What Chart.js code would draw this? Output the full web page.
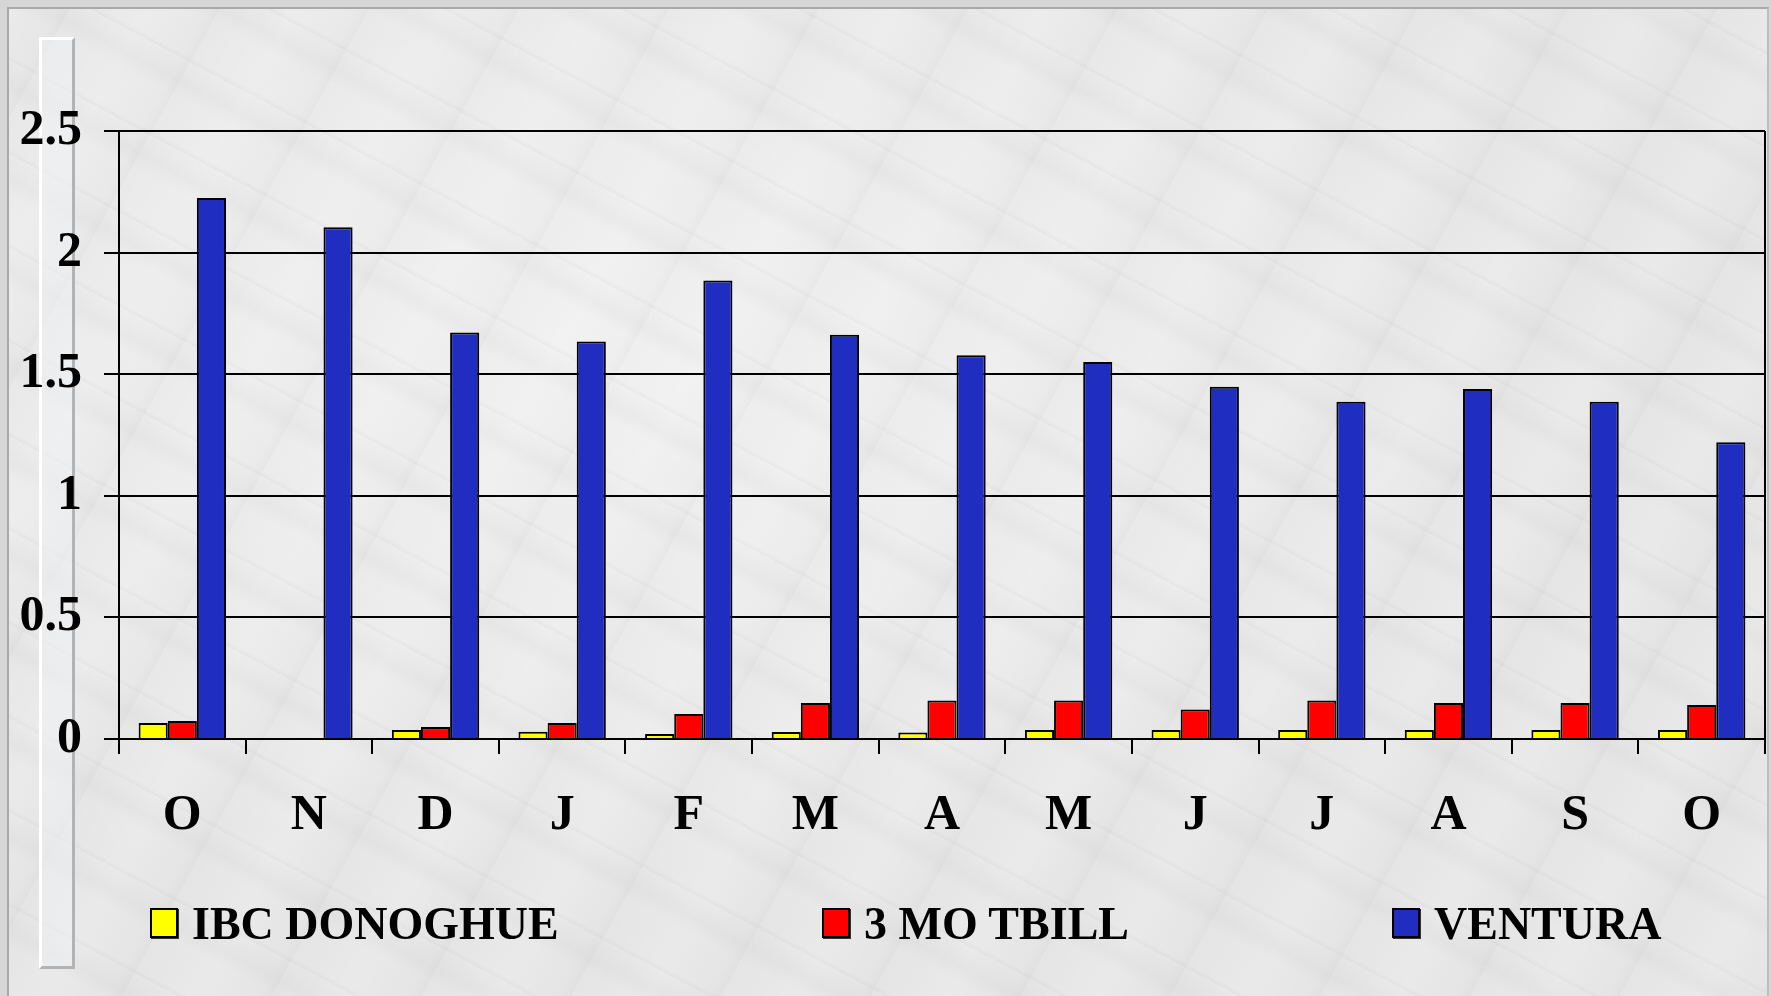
<!DOCTYPE html>
<html>
<head>
<meta charset="utf-8">
<script src="https://cdn.jsdelivr.net/npm/chart.js@4/dist/chart.umd.min.js"></script>
<style>
  html, body { margin: 0; padding: 0; }
  body {
    width: 1771px; height: 996px; position: relative; overflow: hidden;
    background-color: #d6d6d6;
  }
  #marble {
    position: absolute; left: 7px; top: 7px; right: 2px; bottom: -4px;
    border-left: 2px solid #a9a9a9; border-top: 2px solid #a9a9a9; border-right: 2px solid #bdbdbd;
    background-color: #e5e5e5;
    background-image:
      repeating-linear-gradient(28deg, rgba(140,140,140,0.07) 0px, rgba(255,255,255,0) 5px, rgba(255,255,255,0) 47px, rgba(150,150,150,0.06) 61px, rgba(255,255,255,0) 83px),
      repeating-linear-gradient(-61deg, rgba(140,140,140,0.05) 0px, rgba(255,255,255,0) 11px, rgba(255,255,255,0.18) 63px, rgba(255,255,255,0) 131px),
      radial-gradient(ellipse at 35% 35%, rgba(255,255,255,0.4), rgba(255,255,255,0) 65%);
  }
  #strip {
    position: absolute; left: 39px; top: 37px; width: 30px; height: 926px;
    border-left: 3px solid #ffffff; border-top: 3px solid #ffffff;
    border-right: 3px solid #b3b3b3; border-bottom: 3px solid #b3b3b3;
    background: rgba(240,242,245,0.5);
  }
  canvas { position: absolute; left: 0; top: 0; }
  #legend { position: absolute; left: 0; top: 0; width: 1771px; height: 996px; pointer-events: none; }
  .item { position: absolute; top: 906px; height: 34px; display: flex; align-items: center;
    font-family: "Liberation Serif", "Times New Roman", serif; font-weight: bold; font-size: 46px; color: #000; white-space: nowrap; }
  .box { width: 24px; height: 26px; border: 2px solid #000; margin-right: 14px; box-shadow: 1px 1px 0 #333; }
</style>
</head>
<body>
<div id="marble"></div>
<div id="strip"></div>
<canvas id="chart" width="1771" height="996"></canvas>
<div id="legend"></div>
<script>
// months, Oct to Oct
const categories = ['O', 'N', 'D', 'J', 'F', 'M', 'A', 'M', 'J', 'J', 'A', 'S', 'O'];
const ibcDonoghue = [0.066, null, 0.037, 0.030, 0.021, 0.029, 0.027, 0.037, 0.037, 0.037, 0.037, 0.037, 0.037];
const tbill3mo = [0.074, null, 0.049, 0.066, 0.103, 0.148, 0.158, 0.158, 0.121, 0.158, 0.148, 0.148, 0.140];
const ventura = [2.225, 2.104, 1.671, 1.634, 1.885, 1.662, 1.578, 1.550, 1.448, 1.387, 1.439, 1.387, 1.220];
const yTicks = [0, 0.5, 1, 1.5, 2, 2.5];
const seriesNames = ['IBC DONOGHUE', '3 MO TBILL', 'VENTURA'];
const seriesColors = ['#ffff00', '#ff0000', '#1f2ec0'];

const tickFont = { family: "'Liberation Serif', 'Times New Roman', serif", weight: 'bold', size: 50 };

const chart = new Chart(document.getElementById('chart').getContext('2d'), {
    type: 'bar',
    data: {
        labels: categories,
        datasets: [ibcDonoghue, tbill3mo, ventura].map((vals, i) => ({
            label: seriesNames[i],
            data: vals,
            backgroundColor: seriesColors[i],
            borderColor: '#000',
            borderWidth: 2,
            borderSkipped: 'start',
            categoryPercentage: 0.69,
            barPercentage: 1.0
        }))
    },
    options: {
        responsive: false,
        animation: false,
        layout: { padding: { left: 0, right: 6, top: 131, bottom: 118 } },
        plugins: {
            legend: { display: false },
            tooltip: { enabled: false }
        },
        scales: {
            x: {
                grid: {
                    offset: true,
                    color: c => (c.tick ? 'rgba(0,0,0,0)' : '#000'),
                    tickColor: '#000',
                    tickLength: 15,
                    lineWidth: 2
                },
                border: { color: '#000', width: 2 },
                ticks: { color: '#000', font: tickFont, padding: 32, maxRotation: 0 }
            },
            y: {
                min: 0,
                max: 2.5,
                afterBuildTicks: axis => { axis.ticks = yTicks.map(v => ({ value: v })); },
                afterFit: axis => { axis.width = 119; },
                grid: { color: '#000', tickColor: '#000', tickLength: 15, lineWidth: 2 },
                border: { color: '#000', width: 2 },
                ticks: { color: '#000', font: tickFont, padding: 22, callback: v => String(v) }
            }
        }
    }
});

// html legend, built from the chart's datasets
const legendX = [150, 822, 1392];
const legendEl = document.getElementById('legend');
chart.data.datasets.forEach((ds, i) => {
    const item = document.createElement('div');
    item.className = 'item';
    item.style.left = legendX[i] + 'px';
    const box = document.createElement('span');
    box.className = 'box';
    box.style.background = ds.backgroundColor;
    item.appendChild(box);
    item.appendChild(document.createTextNode(ds.label));
    legendEl.appendChild(item);
});
</script>
</body>
</html>
